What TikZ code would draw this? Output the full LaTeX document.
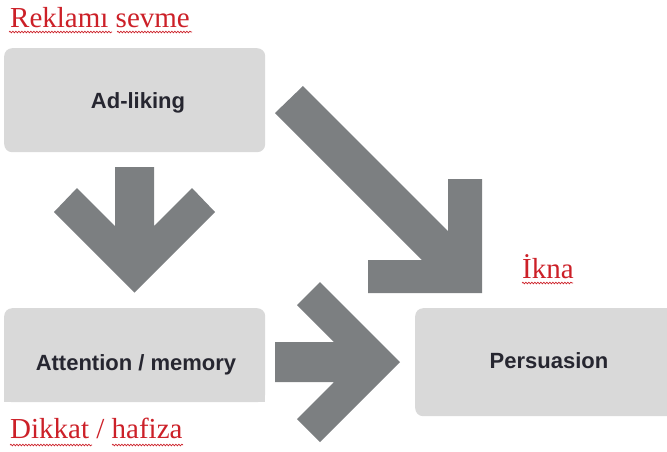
\documentclass[tikz,border=0pt]{standalone}
\usepackage{fontspec}
\setmainfont{Liberation Serif}
\newfontfamily\boxfont{Liberation Sans}
\usetikzlibrary{decorations.pathmorphing}
\definecolor{boxgray}{RGB}{217,217,217}
\definecolor{arrowgray}{RGB}{124,127,129}
\definecolor{labelred}{RGB}{204,32,40}
\definecolor{textdark}{RGB}{38,38,48}
\tikzset{
  box/.style={fill=boxgray, rounded corners=8pt, inner sep=0pt, anchor=north west},
  boxtext/.style={font=\boxfont\bfseries\fontsize{22}{26}\selectfont, text=textdark, anchor=base, inner sep=0pt},
  redlabel/.style={font=\fontsize{29}{34}\selectfont, text=labelred, anchor=base west, inner sep=0pt},
  blockarrow/.style={fill=arrowgray},
  wavy/.style={draw=labelred, line width=0.7pt, decorate, decoration={snake, amplitude=0.8pt, segment length=3pt}}
}
\begin{document}
\begin{tikzpicture}[x=1pt, y=-1pt]
\useasboundingbox (0,0) rectangle (667,451);
\clip (0,0) rectangle (667,451);
% boxes
\node[box, minimum width=261pt, minimum height=104pt] (ad) at (4,48) {};
\node[box, minimum width=261pt, minimum height=94pt] (att) at (4,308) {};
\fill[boxgray] ([yshift=12pt]att.south west) rectangle (att.south east);
\node[box, minimum width=262pt, minimum height=108pt] (per) at (415,308) {};
% box texts
\node[boxtext] (adt) at (138,108) {Ad-liking};
\node[boxtext] (attt) at (136,370) {Attention / memory};
\node[boxtext] (pert) at (549,368) {Persuasion};
% block arrows
\fill[blockarrow] (115,167) -- (154,167) -- (154,226) -- (192,188) -- (215,212)
  -- (134.5,292.5) -- (54,212) -- (77,188) -- (115,226) -- cycle;
\fill[blockarrow] (275,342) -- (334,342) -- (297,305) -- (320,282) -- (400,362)
  -- (320,442) -- (297,419) -- (334,382) -- (275,382) -- cycle;
\fill[blockarrow] (303,86) -- (448,231) -- (448,179) -- (482,179) -- (482,293)
  -- (368,293) -- (368,260) -- (422,260) -- (275,113) -- cycle;
% red labels
\node[redlabel] (rek) at (10,27) {Reklamı sevme};
\node[redlabel] (ikna) at (522,278) {İkna};
\node[redlabel] (dik) at (10,438) {Dikkat / hafiza};
% wavy underlines
\draw[wavy] (9,32) -- (112,32);
\draw[wavy] (117,32) -- (192,32);
\draw[wavy] (522,283) -- (573,283);
\draw[wavy] (10,445) -- (92,445);
\draw[wavy] (112,445) -- (183,445);
\end{tikzpicture}
\end{document}
